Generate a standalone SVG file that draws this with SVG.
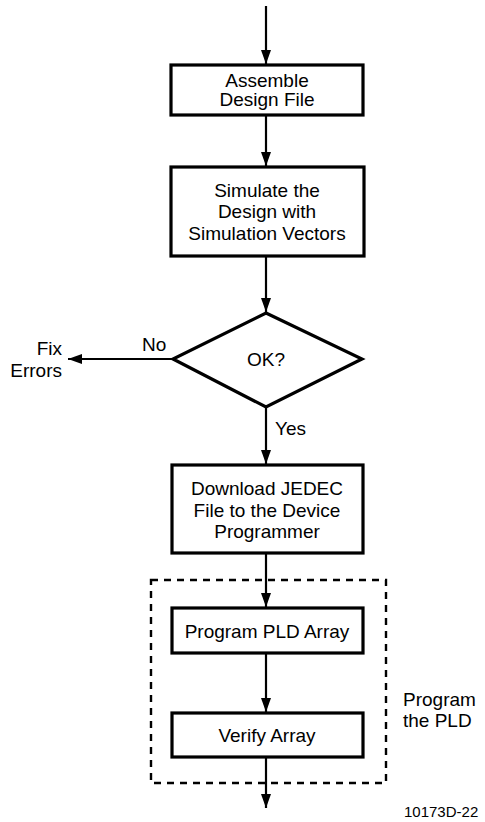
<svg xmlns="http://www.w3.org/2000/svg" width="485" height="822" viewBox="0 0 485 822">
<style>
.box{fill:#fff;stroke:#000;stroke-width:3.2}
.t{font-family:"Liberation Sans",Arial,Helvetica,sans-serif;font-size:19px;fill:#000}
.c{text-anchor:middle}
.e{text-anchor:end}
.s{font-size:15px}
.ln{stroke:#000;stroke-width:2.2;fill:none}
.dash{fill:none;stroke:#000;stroke-width:2.4;stroke-dasharray:7 6}
</style>
<defs>
<marker id="ah" markerUnits="userSpaceOnUse" markerWidth="14" markerHeight="10" viewBox="0 0 14 10" refX="14" refY="5" orient="auto">
<path d="M0,0 L14,5 L0,10 z" fill="#000"/>
</marker>
</defs>
<rect class="dash" x="151" y="580" width="235" height="203"/>
<g id="connectors">
<line class="ln" x1="266" y1="6" x2="266" y2="64" marker-end="url(#ah)"/>
<line class="ln" x1="266" y1="115" x2="266" y2="166" marker-end="url(#ah)"/>
<line class="ln" x1="266" y1="256" x2="266" y2="312" marker-end="url(#ah)"/>
<line class="ln" x1="173" y1="359" x2="68" y2="359" marker-end="url(#ah)"/>
<line class="ln" x1="266" y1="407" x2="266" y2="464" marker-end="url(#ah)"/>
<line class="ln" x1="266" y1="553" x2="266" y2="607" marker-end="url(#ah)"/>
<line class="ln" x1="266" y1="653" x2="266" y2="712" marker-end="url(#ah)"/>
<line class="ln" x1="266" y1="757" x2="266" y2="808" marker-end="url(#ah)"/>
</g>
<g id="assemble">
<rect class="box" x="171" y="65" width="192" height="50"/>
<text class="t c" x="267" y="87">Assemble</text>
<text class="t c" x="267" y="106">Design File</text>
</g>
<g id="simulate">
<rect class="box" x="171" y="167" width="193" height="89"/>
<text class="t c" x="267" y="197">Simulate the</text>
<text class="t c" x="267" y="218">Design with</text>
<text class="t c" x="267" y="240">Simulation Vectors</text>
</g>
<g id="ok">
<polygon class="box" points="266,313 362,359 266,407 173,359"/>
<text class="t c" x="266" y="366">OK?</text>
<text class="t" x="142" y="351">No</text>
<text class="t" x="275" y="435">Yes</text>
</g>
<g id="fix">
<text class="t e" x="62" y="355">Fix</text>
<text class="t e" x="62" y="377">Errors</text>
</g>
<g id="download">
<rect class="box" x="172" y="465" width="191" height="88"/>
<text class="t c" x="267" y="495">Download JEDEC</text>
<text class="t c" x="267" y="517">File to the Device</text>
<text class="t c" x="267" y="538">Programmer</text>
</g>
<g id="programarray">
<rect class="box" x="172" y="608" width="191" height="45"/>
<text class="t c" x="267" y="638">Program PLD Array</text>
</g>
<g id="verify">
<rect class="box" x="172" y="713" width="191" height="44"/>
<text class="t c" x="267" y="742">Verify Array</text>
</g>
<g id="programpld">
<text class="t" x="403" y="706">Program</text>
<text class="t" x="403" y="727">the PLD</text>
</g>
<text class="t s" x="404" y="817">10173D-22</text>
</svg>
